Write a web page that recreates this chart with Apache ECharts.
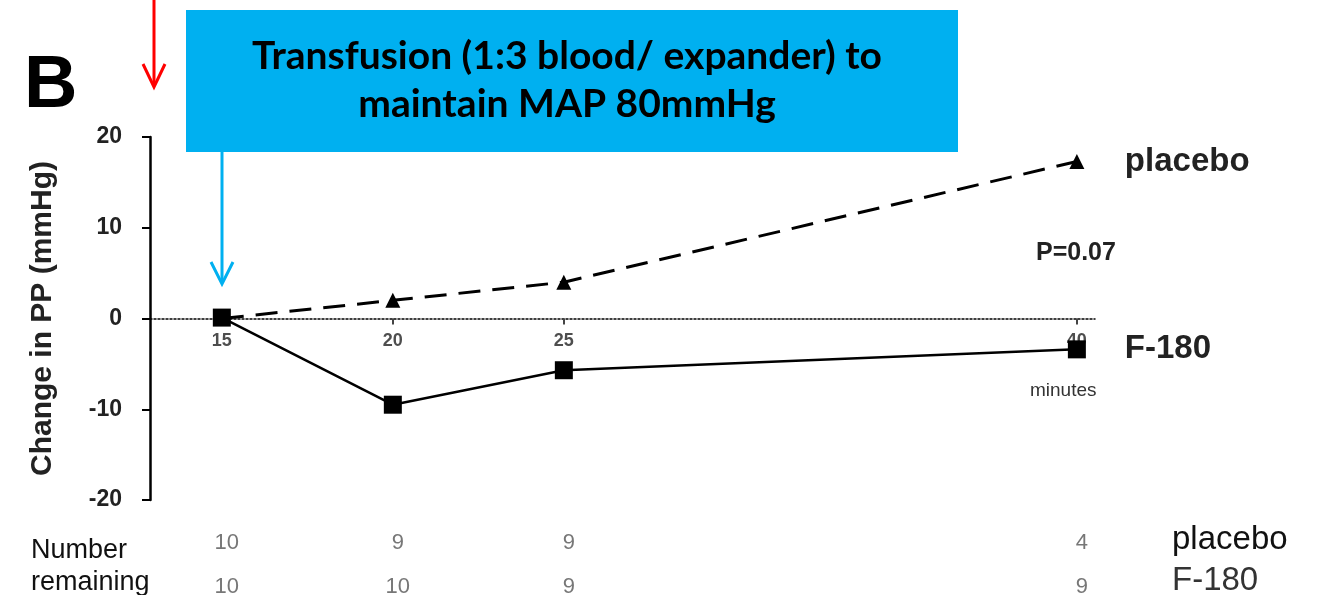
<!DOCTYPE html>
<html><head><meta charset="utf-8">
<script src="https://cdn.jsdelivr.net/npm/echarts@6/dist/echarts.min.js"></script>
<style>html,body{margin:0;padding:0;background:#fff}#c{width:1323px;height:595px}</style>
</head><body><div id="c"></div>
<script>
const minutes = [15, 20, 25, 40];
const xTickLabels = ['15', '20', '25', '40'];
const placebo = [0, 2.0, 4.0, 17.3];
const f180 = [0.1, -9.5, -5.7, -3.4];
const placeboRemaining = [10, 9, 9, 4];
const f180Remaining = [10, 10, 9, 9];

const chart = echarts.init(document.getElementById('c'));
const bold = 'Liberation Sans';
chart.setOption({
  animation: false,
  grid: [
    {left: 150, right: 228, top: 137, bottom: 95},
    {left: 150, right: 228, top: 525, height: 70}
  ],
  xAxis: [
    {type: 'value', gridIndex: 0, min: 12.9, max: 40.53,
     axisLine: {onZero: true, lineStyle: {color: '#000', type: [2, 2], width: 1.5}},
     axisTick: {show: true, inside: false, length: 6, customValues: [20, 25, 40], lineStyle: {color: '#444', width: 2}},
     axisLabel: {show: false},
     splitLine: {show: false}},
    {type: 'value', gridIndex: 1, min: 12.9, max: 40.53, show: false}
  ],
  yAxis: [
    {type: 'value', gridIndex: 0, min: -20, max: 20, interval: 10,
     name: 'Change in PP (mmHg)', nameLocation: 'middle', nameGap: 92,
     nameTextStyle: {fontFamily: bold, fontWeight: 'bold', fontSize: 30, color: '#222'},
     axisLine: {show: true, lineStyle: {color: '#000', width: 2.5}},
     axisTick: {show: true, length: 8, lineStyle: {color: '#000', width: 2}},
     axisLabel: {fontFamily: bold, fontWeight: 'bold', fontSize: 23, color: '#222', margin: 28},
     splitLine: {show: false}},
    {type: 'category', gridIndex: 1, data: ['F-180', 'placebo'], show: false}
  ],
  series: [
    {name: 'placebo', type: 'line', xAxisIndex: 0, yAxisIndex: 0,
     data: minutes.map((m, i) => [m, placebo[i]]),
     symbol: 'triangle', symbolSize: 15, showSymbol: true,
     itemStyle: {color: '#000'},
     lineStyle: {color: '#000', width: 3, type: [22, 12]},
     endLabel: {show: true, formatter: 'placebo', distance: 48,
       fontFamily: bold, fontWeight: 'bold', fontSize: 33, color: '#222'}},
    {name: 'F-180', type: 'line', xAxisIndex: 0, yAxisIndex: 0,
     data: minutes.map((m, i) => [m, f180[i]]),
     symbol: 'rect', symbolSize: 18, showSymbol: true, z: 3,
     itemStyle: {color: '#000'},
     lineStyle: {color: '#000', width: 2.5},
     endLabel: {show: true, formatter: 'F-180', distance: 48,
       fontFamily: bold, fontWeight: 'bold', fontSize: 33, color: '#222'}},
    {type: 'scatter', xAxisIndex: 0, yAxisIndex: 0, symbolSize: 0, z: 1, silent: true,
     data: minutes.map(m => [m, 0]),
     label: {show: true, position: 'bottom', distance: 14, formatter: p => xTickLabels[p.dataIndex],
       fontFamily: bold, fontWeight: 'bold', fontSize: 18, color: '#222'}},
    {type: 'scatter', xAxisIndex: 1, yAxisIndex: 1, symbolSize: 0,
     data: minutes.map((m, i) => [m, 'placebo', placeboRemaining[i]]),
     label: {show: true, position: 'inside', offset: [5, 0], formatter: p => String(p.value[2]),
       fontFamily: 'Liberation Sans', fontSize: 22, color: '#555'}},
    {type: 'scatter', xAxisIndex: 1, yAxisIndex: 1, symbolSize: 0,
     data: minutes.map((m, i) => [m, 'F-180', f180Remaining[i]]),
     label: {show: true, position: 'inside', offset: [5, 9], formatter: p => String(p.value[2]),
       fontFamily: 'Liberation Sans', fontSize: 22, color: '#555'}}
  ],
  graphic: [
    {type: 'text', x: 24, y: 87, style: {text: 'B', font: 'bold 74px "Liberation Sans"', fill: '#000', verticalAlign: 'middle'}},
    {type: 'line', shape: {x1: 154, y1: 0, x2: 154, y2: 86}, style: {stroke: '#ff0000', lineWidth: 3}},
    {type: 'polyline', shape: {points: [[143, 64], [154, 87], [165, 64]]}, style: {stroke: '#ff0000', lineWidth: 3, fill: null}},
    {type: 'rect', shape: {x: 186, y: 10, width: 772, height: 142}, style: {fill: '#00b0f0'}},
    {type: 'text', x: 567, y: 56, style: {text: 'Transfusion (1:3 blood/ expander) to', font: 'bold 39px Lato', fill: '#000', align: 'center', verticalAlign: 'middle'}},
    {type: 'text', x: 567, y: 104, style: {text: 'maintain MAP 80mmHg', font: 'bold 39px Lato', fill: '#000', align: 'center', verticalAlign: 'middle'}},
    {type: 'line', shape: {x1: 222, y1: 152, x2: 222, y2: 283}, style: {stroke: '#00b0f0', lineWidth: 3}},
    {type: 'polyline', shape: {points: [[211, 262], [222, 284], [233, 262]]}, style: {stroke: '#00b0f0', lineWidth: 3, fill: null}},
    {type: 'text', x: 1036, y: 253, style: {text: 'P=0.07', font: 'bold 25px "Liberation Sans"', fill: '#222', verticalAlign: 'middle'}},
    {type: 'text', x: 1030, y: 391, style: {text: 'minutes', font: '19px "Liberation Sans"', fill: '#333', verticalAlign: 'middle'}},
    {type: 'text', x: 31, y: 551, style: {text: 'Number', font: '27px "Liberation Sans"', fill: '#111', verticalAlign: 'middle'}},
    {type: 'text', x: 31, y: 583, style: {text: 'remaining', font: '27px "Liberation Sans"', fill: '#111', verticalAlign: 'middle'}},
    {type: 'text', x: 1172, y: 540, style: {text: 'placebo', font: '33px "Liberation Sans"', fill: '#111', verticalAlign: 'middle'}},
    {type: 'text', x: 1172, y: 581, style: {text: 'F-180', font: '33px "Liberation Sans"', fill: '#333', verticalAlign: 'middle'}}
  ]
});
</script></body></html>
